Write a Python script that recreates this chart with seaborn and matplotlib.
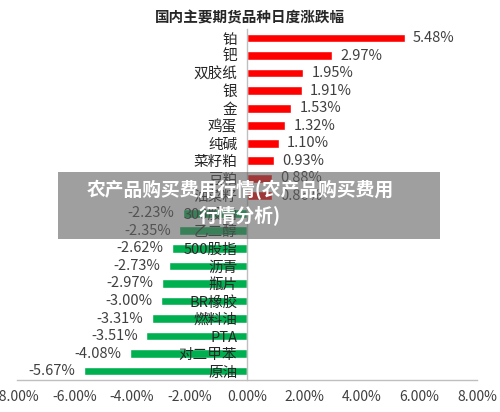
import pandas as pd
import numpy as np
import matplotlib
matplotlib.use('Agg')
import matplotlib.pyplot as plt
import seaborn as sns
from matplotlib.ticker import FixedLocator

sns.set_theme(style='white')
plt.rcParams['font.family'] = ['Noto Sans CJK SC', 'DejaVu Sans']

names = ['铂', '钯', '双胶纸', '银', '金', '鸡蛋', '纯碱', '菜籽粕', '豆粕', '油菜籽',
         '300股指', '乙二醇', '500股指', '沥青', '瓶片', 'BR橡胶', '燃料油', 'PTA',
         '对二甲苯', '原油']
changes = [5.48, 2.97, 1.95, 1.91, 1.53, 1.32, 1.10, 0.93, 0.88, 0.86,
           -2.23, -2.35, -2.62, -2.73, -2.97, -3.00, -3.31, -3.51, -4.08, -5.67]
xticks = [-8, -6, -4, -2, 0, 2, 4, 6, 8]

df = pd.DataFrame({'name': names, 'chg': changes})
df['dir'] = np.where(df.chg >= 0, 'up', 'down')

fig = plt.figure(figsize=(5, 4.12), dpi=100)
ax = fig.add_axes([0.034, 0.078, 0.92, 0.851])

sns.barplot(data=df, x='chg', y='name', hue='dir', palette={'up': '#ff0000', 'down': '#00b050'},
            width=0.5, dodge=False, legend=False, orient='h', saturation=1, ax=ax)

for c in ax.containers:
    ax.bar_label(c, fmt=lambda v: f'{v:.2f}%', padding=6, fontsize=10.5, color='#404040')

ax.set_xlim(-8, 8)
ax.set_xticks(xticks)
ax.set_xticklabels([f'{v:.2f}%' for v in xticks])
ax.set_xlabel('')
ax.set_ylabel('')
ax.set_axisbelow(False)  # category labels sit on top of the green bars

for s in ['top', 'right']:
    ax.spines[s].set_visible(False)
ax.spines['left'].set_position(('data', 0))
for s in ['left', 'bottom']:
    ax.spines[s].set_color('#bfbfbf')
    ax.spines[s].set_linewidth(1)

ax.tick_params(axis='x', direction='out', length=4, color='#bfbfbf', labelsize=10,
               labelcolor='#404040', pad=3)
ax.tick_params(axis='y', which='major', length=0, labelsize=10.5, labelcolor='#262626', pad=7)
ax.yaxis.set_minor_locator(FixedLocator(np.arange(-0.5, len(names), 1)))
ax.tick_params(axis='y', which='minor', direction='out', length=3, color='#bfbfbf')

fig.text(0.5, 0.958, '国内主要期货品种日度涨跌幅', ha='center', va='center', fontsize=10.5,
         fontweight='bold', color='#262626')

# gray overlay banner
fig.patches.append(plt.Rectangle((0.116, 1 - 239 / 412), 0.764, 67 / 412, transform=fig.transFigure,
                                 facecolor='#606060', alpha=0.6, edgecolor='none', zorder=5))
fig.text(0.48, 1 - 190 / 412, '农产品购买费用行情(农产品购买费用', ha='center', va='center',
         fontsize=13.5, fontweight='bold', color='white', zorder=6)
fig.text(0.48, 1 - 215 / 412, '行情分析)', ha='center', va='center',
         fontsize=13.5, fontweight='bold', color='white', zorder=6)

fig.savefig('out.png', dpi=100)
